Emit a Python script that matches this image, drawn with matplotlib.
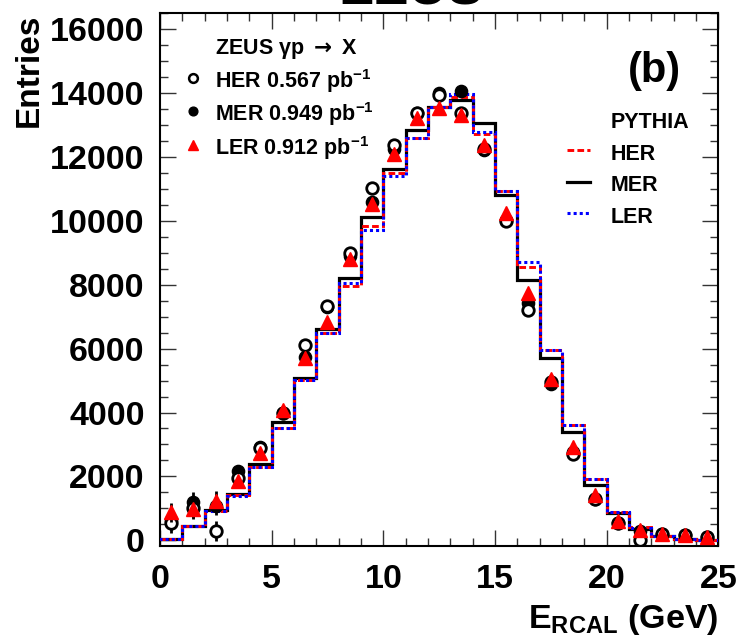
import matplotlib
matplotlib.use('Agg')
import matplotlib.pyplot as plt
from matplotlib.lines import Line2D

# ---------------- data ----------------
bin_edges = [0, 1, 2, 3, 4, 5, 6, 7, 8, 9, 10, 11, 12, 13, 14, 15, 16, 17, 18, 19, 20, 21, 22, 23, 24, 25]
bin_centers = [0.5, 1.5, 2.5, 3.5, 4.5, 5.5, 6.5, 7.5, 8.5, 9.5, 10.5, 11.5, 12.5,
               13.5, 14.5, 15.5, 16.5, 17.5, 18.5, 19.5, 20.5, 21.5, 22.5, 23.5, 24.5]

# PYTHIA Monte Carlo histograms
mc_her = [55, 440, 930, 1410, 2290, 3530, 5020, 6480, 7960, 9840, 11490, 12590, 13580,
          13890, 12720, 10940, 8570, 5950, 3600, 1910, 890, 420, 130, 55, 20]
mc_mer = [55, 450, 940, 1460, 2400, 3700, 5080, 6600, 8200, 10130, 11620, 12850, 13580,
          13790, 13060, 10810, 8150, 5700, 3380, 1720, 840, 340, 120, 55, 20]
mc_ler = [55, 450, 930, 1400, 2290, 3530, 5020, 6500, 8050, 9720, 11390, 12590, 13580,
          13980, 12790, 10940, 8700, 5950, 3620, 1920, 890, 400, 130, 55, 20]

# ZEUS data
data_her = [540, 1000, 290, 1950, 2900, 4000, 6100, 7350, 8990, 11020, 12380, 13370, 13950,
            13390, 12250, 10000, 7210, 4950, 2700, 1300, 540, 20, 200, 150, 100]
data_mer = [620, 1210, 1080, 2180, 2910, 4000, 5750, 7310, 8900, 10600, 12240, 13370, 14000,
            14080, 12220, 10030, 7420, 4880, 2750, 1300, 550, 280, 200, 150, 100]
data_ler = [880, 970, 1230, 1870, 2720, 4070, 5720, 6840, 8800, 10530, 12100, 13210, 13550,
            13320, 12380, 10240, 7730, 5050, 2930, 1430, 610, 320, 210, 160, 110]
data_err = [300, 300, 300, 150, 150, 150, 150, 150, 150, 150, 150, 150, 150,
            150, 150, 150, 150, 150, 150, 150, 150, 150, 150, 150, 150]

x_ticks = [0, 5, 10, 15, 20, 25]
x_tick_labels = ['0', '5', '10', '15', '20', '25']
y_ticks = [0, 2000, 4000, 6000, 8000, 10000, 12000, 14000, 16000]
y_tick_labels = ['0', '2000', '4000', '6000', '8000', '10000', '12000', '14000', '16000']

data_labels = ['ZEUS \u03b3p $\\mathsf{\\rightarrow}$ X', 'HER 0.567 pb$^{-1}$',
               'MER 0.949 pb$^{-1}$', 'LER 0.912 pb$^{-1}$']
mc_labels = ['PYTHIA', 'HER', 'MER', 'LER']

# ---------------- style ----------------
plt.rcParams['font.family'] = ['Liberation Sans', 'DejaVu Sans']
plt.rcParams['font.weight'] = 'bold'
plt.rcParams['mathtext.fontset'] = 'custom'
plt.rcParams['mathtext.rm'] = 'Liberation Sans:bold'
plt.rcParams['mathtext.bf'] = 'Liberation Sans:bold'
plt.rcParams['mathtext.it'] = 'Liberation Sans:bold'
plt.rcParams['mathtext.sf'] = 'DejaVu Sans:bold'
plt.rcParams['mathtext.default'] = 'rm'

fig = plt.figure(figsize=(7.4, 6.39), dpi=100)
ax = fig.add_axes([0.2162, 0.1455, 0.7545, 0.8337])

red_ls = (0, (2.3, 1.1))
blue_ls = (0, (1.0, 1.0))

ax.stairs(mc_mer, bin_edges, color='black', lw=2.3, baseline=0, zorder=2)
ax.stairs(mc_her, bin_edges, color='red', lw=2.1, ls=red_ls, baseline=0, zorder=3)
ax.stairs(mc_ler, bin_edges, color='blue', lw=2.2, ls=blue_ls, baseline=0, zorder=4)

ax.errorbar(bin_centers, data_mer, yerr=data_err, fmt='o', color='black', ms=8.8,
            elinewidth=2.0, capsize=0, zorder=5)
ax.errorbar(bin_centers, data_her, yerr=data_err, fmt='o', mfc='white', mec='black', mew=2.0,
            ecolor='black', ms=8.3, elinewidth=2.0, capsize=0, zorder=6)
ax.errorbar(bin_centers, data_ler, yerr=data_err, fmt='^', color='red', ecolor='black', ms=9.5,
            elinewidth=2.0, capsize=0, zorder=7)

ax.set_xlim(0, 25)
ax.set_ylim(-180, 16500)
ax.set_xticks(x_ticks)
ax.set_xticklabels(x_tick_labels)
ax.set_xticks(bin_edges, minor=True)
ax.set_yticks(y_ticks)
ax.set_yticklabels(y_tick_labels)
ax.set_yticks([v * 500 for v in range(34)], minor=True)
ax.tick_params(which='both', direction='in', top=True, right=True, color='#333333', width=1.0)
ax.tick_params(which='major', length=11.5, labelsize=24.5)
ax.tick_params(which='minor', length=5.5)
ax.tick_params(axis='x', pad=13)
ax.tick_params(axis='y', pad=11)
for sp in ax.spines.values():
    sp.set_linewidth(1.5)

# legends (uniform row height through handleheight)
blank = Line2D([], [], linestyle='none', marker='None')
h_her = Line2D([], [], ls='none', marker='o', mfc='white', mec='black', mew=1.8, ms=6.3)
h_mer = Line2D([], [], ls='none', marker='o', color='black', ms=6.3)
h_ler = Line2D([], [], ls='none', marker='^', color='red', ms=7.0)
leg1 = ax.legend([blank, h_her, h_mer, h_ler], data_labels, loc='upper left',
                 bbox_to_anchor=(0.0403, 0.9607), frameon=False, fontsize=15.5, numpoints=1,
                 handlelength=1.0, handleheight=1.4, handletextpad=0.5, borderpad=0,
                 borderaxespad=0, labelspacing=0.27)
ax.add_artist(leg1)

l_her = Line2D([], [], color='red', lw=2.1, ls=red_ls)
l_mer = Line2D([], [], color='black', lw=2.3)
l_ler = Line2D([], [], color='blue', lw=2.2, ls=blue_ls)
leg2 = ax.legend([blank, l_her, l_mer, l_ler], mc_labels, loc='upper left',
                 bbox_to_anchor=(0.7285, 0.8215), frameon=False, fontsize=15.5,
                 handlelength=1.08, handleheight=1.4, handletextpad=0.98, borderpad=0,
                 borderaxespad=0, labelspacing=0.32)

ax.text(0.885, 0.8917, '(b)', transform=ax.transAxes, ha='center', va='center',
        fontsize=30, fontweight='bold')

fig.text(411.5 / 740, 1 - 4.5 / 639, 'ZEUS', ha='center', va='baseline', fontsize=38.6,
         fontweight='bold')
fig.text(29.5 / 740, 1 - 14 / 639, 'Entries', rotation=90, ha='center', va='top',
         fontsize=24, fontweight='bold')
fig.text(718 / 740, 1 - 628 / 639, r'$E_{RCAL}$ (GeV)', ha='right', va='baseline',
         fontsize=24.5, fontweight='bold')

fig.savefig('out.png', dpi=100)
